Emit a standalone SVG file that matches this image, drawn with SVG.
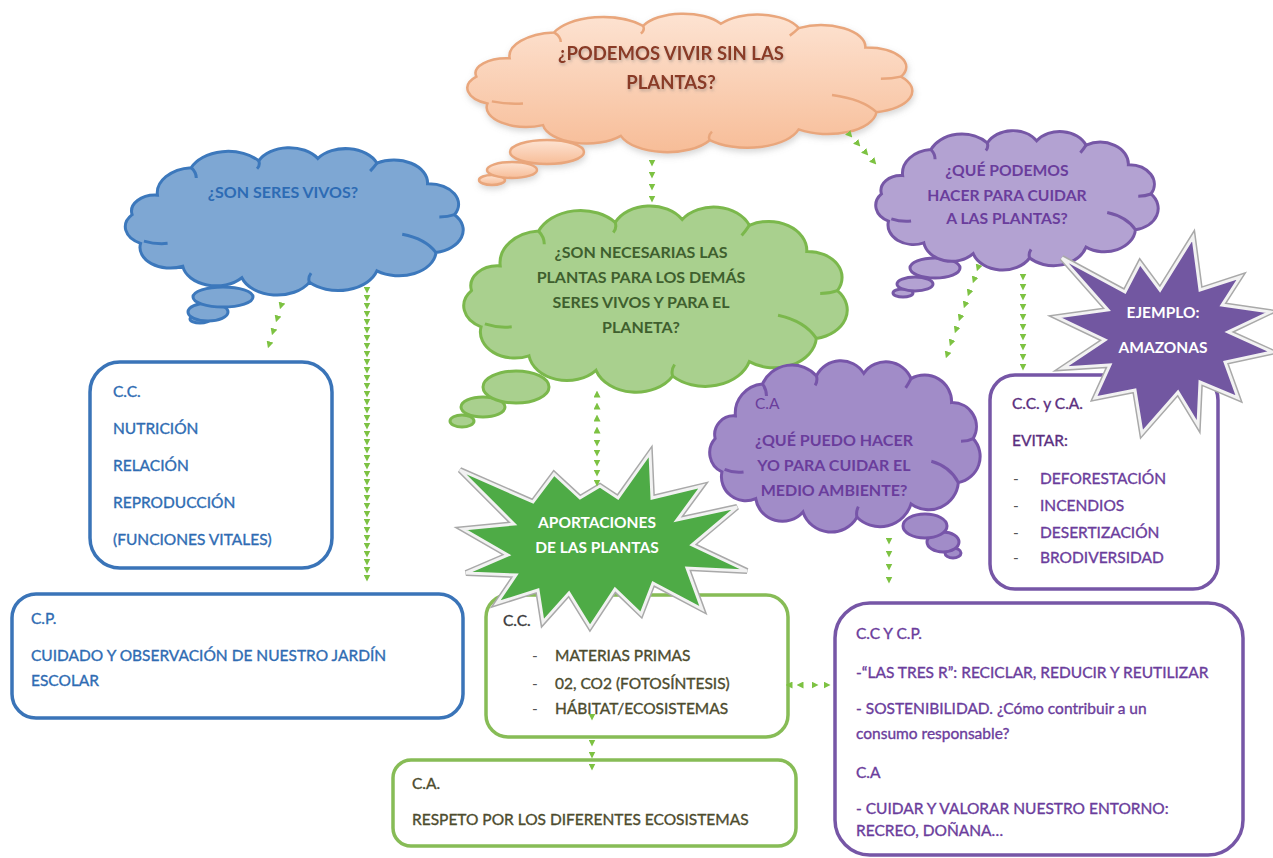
<svg xmlns="http://www.w3.org/2000/svg" width="1273" height="858" viewBox="0 0 1273 858">
<defs>
<style>
text { font-family: Lato, "Open Sans", "Liberation Sans", sans-serif; }
.ct { font-weight: bold; text-anchor: middle; }
.peach { fill: url(#gPeach); stroke: #e9a67b; stroke-width: 2.5; }
.blue { fill: #7ea7d3; stroke: #3c78bc; stroke-width: 3; }
.green { fill: #a9d08e; stroke: #7bb84c; stroke-width: 3; }
.lav { fill: #b3a2d2; stroke: #7657a6; stroke-width: 3; }
.vio { fill: #a18cc8; stroke: #7755a9; stroke-width: 3; }
.box { fill: #fff; stroke-width: 3.5; }
.bb { stroke: #3a74b8; }
.gb { stroke: #87bc56; }
.pb { stroke: #7656a6; }
.tb { fill: #2f6cb3; stroke: #2f6cb3; stroke-width: 0.35; font-size: 15.5px; }
.tg { fill: #4d4c2e; stroke: #4d4c2e; stroke-width: 0.35; font-size: 15.5px; }
.tp { fill: #6b3d9c; stroke: #6b3d9c; stroke-width: 0.35; font-size: 15.5px; }
.dash { fill: #555; font-size: 15.5px; }
.sh { fill: none; stroke: #a9a9a9; stroke-width: 6; stroke-linejoin: miter; }
.st { font-weight: bold; fill: #fff; text-anchor: middle; font-size: 15.5px; }
.conn path { fill: none; stroke: none; marker-start: url(#tri); marker-mid: url(#tri); marker-end: url(#tri); }
</style>
<linearGradient id="gPeach" x1="0" y1="0" x2="0" y2="1">
<stop offset="0" stop-color="#fde3d2"/>
<stop offset="1" stop-color="#f7bd98"/>
</linearGradient>
<filter id="soft" x="-10%" y="-10%" width="120%" height="130%">
<feDropShadow dx="1" dy="3" stdDeviation="3" flood-color="#888" flood-opacity="0.35"/>
</filter>
<filter id="tglow" x="-10%" y="-30%" width="120%" height="160%">
<feDropShadow dx="1" dy="2" stdDeviation="1.5" flood-color="#777" flood-opacity="0.45"/>
</filter>
<marker id="tri" viewBox="0 0 10 10" refX="5" refY="5" markerWidth="7" markerHeight="7" markerUnits="userSpaceOnUse" orient="auto">
<path d="M0,0 L10,5 L0,10 Z" fill="#7dc242"/>
</marker>
<g id="cloud">
<path vector-effect="non-scaling-stroke" d="M20,38 A22,22 0 0 1 40,14 A24,24 0 0 1 80,8 A20,20 0 0 1 115,6 A20,20 0 0 1 150,10 A20,20 0 0 1 180,28 A18,18 0 0 1 196,55 A20,20 0 0 1 185,88 A22,22 0 0 1 150,104 A24,24 0 0 1 110,114 A22,22 0 0 1 70,110 A20,20 0 0 1 35,100 A18,18 0 0 1 10,80 A16,16 0 0 1 5,55 A14,14 0 0 1 20,38 Z"/>
<path vector-effect="non-scaling-stroke" fill="none" d="M12,78 Q19,81 26,80 M40,14 Q43,18 43,23 M80,8 Q81,12 79,15 M150,10 Q148,14 146,17 M196,55 Q192,57 187,57 M165,72 Q179,76 185,88 M110,114 Q109,110 111,106"/>
</g>
<path id="gstar" d="M460,470 L533,502 L554,474 L580,498 L600,486 L618,498 L650,453 L652,498 L702,486 L677,520 L737,507 L692,545 L747,571 L687,568 L702,609 L653,583 L641,614 L615,589 L590,627 L569,593 L543,622 L538,590 L497,603 L516,575 L466,573 L508,555 L463,529 L514,524 Z"/>
<path id="pstar" d="M1062,258 L1125,292 L1140,263 L1160,290 L1193,237 L1200,290 L1240,277 L1222,305 L1270,312 L1228,332 L1272,352 L1225,362 L1238,398 L1200,382 L1198,425 L1178,392 L1142,433 L1135,390 L1095,398 L1110,365 L1063,368 L1105,340 L1057,317 L1108,310 Z"/>
</defs>
<rect width="1273" height="858" fill="#fff"/>

<g id="node-podemos" filter="url(#soft)">
<ellipse class="peach" cx="492" cy="180" rx="13" ry="5"/>
<ellipse class="peach" cx="512" cy="170" rx="25" ry="8"/>
<ellipse class="peach" cx="547" cy="152" rx="37" ry="12"/>
<use href="#cloud" class="peach" transform="translate(465.2,17.3) scale(2.223,1.078)"/>
<text class="ct" font-size="18.5" fill="#8a3a25" filter="url(#tglow)"><tspan x="671" y="60">¿PODEMOS VIVIR SIN LAS</tspan><tspan x="671" y="89">PLANTAS?</tspan></text>
</g>

<g id="node-seres-vivos">
<ellipse class="blue" cx="200" cy="319" rx="10" ry="4"/>
<ellipse class="blue" cx="208" cy="312" rx="20" ry="9"/>
<ellipse class="blue" cx="223" cy="297" rx="30" ry="10"/>
<use href="#cloud" class="blue" transform="translate(123.7,151.6) scale(1.688,1.147)"/>
<text class="ct" x="283" y="198" font-size="16" fill="#2d6bb4">¿SON SERES VIVOS?</text>
</g>

<g id="node-necesarias">
<ellipse class="green" cx="462" cy="421" rx="12" ry="6"/>
<ellipse class="green" cx="483" cy="407" rx="22" ry="10"/>
<ellipse class="green" cx="516" cy="387" rx="33" ry="16"/>
<use href="#cloud" class="green" transform="translate(461.9,210.8) scale(1.916,1.45)"/>
<text class="ct" font-size="16" fill="#3f5f2e"><tspan x="641" y="258">¿SON NECESARIAS LAS</tspan><tspan x="641" y="283">PLANTAS PARA LOS DEMÁS</tspan><tspan x="641" y="308">SERES VIVOS Y PARA EL</tspan><tspan x="641" y="333">PLANETA?</tspan></text>
</g>

<g id="node-que-podemos">
<ellipse class="lav" cx="903" cy="293" rx="10" ry="4"/>
<ellipse class="lav" cx="915" cy="284" rx="18" ry="7"/>
<ellipse class="lav" cx="935" cy="268" rx="25" ry="10"/>
<use href="#cloud" class="lav" transform="translate(874.4,134.3) scale(1.411,1.085)"/>
<text class="ct" font-size="15.7" fill="#6a3d9c"><tspan x="1007" y="176">¿QUÉ PODEMOS</tspan><tspan x="1007" y="201">HACER PARA CUIDAR</tspan><tspan x="1007" y="224">A LAS PLANTAS?</tspan></text>
</g>

<g id="node-que-puedo">
<ellipse class="vio" cx="953" cy="553" rx="8" ry="5"/>
<ellipse class="vio" cx="943" cy="542" rx="16" ry="10"/>
<ellipse class="vio" cx="925" cy="526" rx="22" ry="12"/>
<use href="#cloud" class="vio" transform="translate(708.4,365.3) scale(1.351,1.333)"/>
<text x="755" y="409" font-size="15.5" fill="#6a3d9c">C.A</text>
<text class="ct" font-size="16" fill="#6a3d9c"><tspan x="834" y="446">¿QUÉ PUEDO HACER</tspan><tspan x="834" y="471">YO PARA CUIDAR EL</tspan><tspan x="834" y="496">MEDIO AMBIENTE?</tspan></text>
</g>

<g id="node-cc-funciones">
<rect class="box bb" x="90" y="362" width="242" height="206" rx="30"/>
<text class="tb"><tspan x="113" y="397">C.C.</tspan><tspan x="113" y="434">NUTRICIÓN</tspan><tspan x="113" y="471">RELACIÓN</tspan><tspan x="113" y="508">REPRODUCCIÓN</tspan><tspan x="113" y="545">(FUNCIONES VITALES)</tspan></text>
</g>

<g id="node-cp-jardin">
<rect class="box bb" x="12" y="594" width="451" height="124" rx="24"/>
<text class="tb"><tspan x="31" y="624">C.P.</tspan><tspan x="31" y="661">CUIDADO Y OBSERVACIÓN DE NUESTRO JARDÍN</tspan><tspan x="31" y="686">ESCOLAR</tspan></text>
</g>

<g id="node-cc-aportaciones">
<rect class="box gb" x="486" y="595" width="302" height="142" rx="22"/>
<text x="503" y="626" font-size="15.5" fill="#3b3b3b" stroke="#3b3b3b" stroke-width="0.35">C.C.</text>
<text class="dash"><tspan x="532" y="661">-</tspan><tspan x="532" y="689">-</tspan><tspan x="532" y="714">-</tspan></text>
<text class="tg"><tspan x="555" y="661">MATERIAS PRIMAS</tspan><tspan x="555" y="689">02, CO2 (FOTOSÍNTESIS)</tspan><tspan x="555" y="714">HÁBITAT/ECOSISTEMAS</tspan></text>
</g>

<g id="node-ca-respeto">
<rect class="box gb" x="393" y="760" width="403" height="86" rx="18"/>
<text class="tg"><tspan x="412" y="789">C.A.</tspan><tspan x="412" y="825">RESPETO POR LOS DIFERENTES ECOSISTEMAS</tspan></text>
</g>

<g id="node-evitar">
<rect class="box pb" x="990" y="375" width="228" height="214" rx="25"/>
<text font-size="15.5" fill="#5b2f80" stroke="#5b2f80" stroke-width="0.35"><tspan x="1012" y="409">C.C. y C.A.</tspan><tspan x="1012" y="446">EVITAR:</tspan></text>
<text class="dash"><tspan x="1013" y="484">-</tspan><tspan x="1013" y="511">-</tspan><tspan x="1013" y="538">-</tspan><tspan x="1013" y="563">-</tspan></text>
<text class="tp"><tspan x="1040" y="484">DEFORESTACIÓN</tspan><tspan x="1040" y="511">INCENDIOS</tspan><tspan x="1040" y="538">DESERTIZACIÓN</tspan><tspan x="1040" y="563">BRODIVERSIDAD</tspan></text>
</g>

<g id="node-tres-r">
<rect class="box pb" x="835" y="603" width="408" height="252" rx="35"/>
<text class="tp"><tspan x="856" y="639">C.C Y C.P.</tspan><tspan x="856" y="678">-“LAS TRES R”: RECICLAR, REDUCIR Y REUTILIZAR</tspan><tspan x="856" y="714">- SOSTENIBILIDAD. ¿Cómo contribuir a un</tspan><tspan x="856" y="739">consumo responsable?</tspan><tspan x="856" y="778">C.A</tspan><tspan x="856" y="814">- CUIDAR Y VALORAR NUESTRO ENTORNO:</tspan><tspan x="856" y="836">RECREO, DOÑANA…</tspan></text>
</g>

<g id="node-aportaciones">
<use href="#gstar" class="sh"/>
<use href="#gstar" fill="#4eab46" stroke="#f2f2f2" stroke-width="3"/>
<text class="st"><tspan x="597" y="528">APORTACIONES</tspan><tspan x="597" y="553">DE LAS PLANTAS</tspan></text>
</g>

<g id="node-amazonas">
<use href="#pstar" class="sh"/>
<use href="#pstar" fill="#7257a1" stroke="#f2f2f2" stroke-width="3"/>
<text class="st"><tspan x="1163" y="318">EJEMPLO:</tspan><tspan x="1163" y="353">AMAZONAS</tspan></text>
</g>

<g id="connectors" class="conn">
<path d="M652,163 L652,175 L652,187 L652,199"/>
<path d="M850,135 L858,144 L866,153 L874,162"/>
<path d="M281,306 L277,319 L273,332 L269,345"/>
<path d="M367,290 L367,298 L367,306 L367,314 L367,322 L367,330 L367,338 L367,346 L367,354 L367,362 L367,370 L367,378 L367,386 L367,394 L367,402 L367,410 L367,418 L367,426 L367,434 L367,442 L367,450 L367,458 L367,466 L367,474 L367,482 L367,490 L367,498 L367,506 L367,514 L367,522 L367,530 L367,538 L367,546 L367,554 L367,562 L367,570 L367,578"/>
<path d="M597,430 L597,418 L597,406 L597,394"/>
<path d="M597,443 L597,453 L597,463 L597,473 L597,483"/>
<path d="M978,268 L974,280 L969,293 L965,305 L960,318 L956,330 L951,343 L947,355"/>
<path d="M1023,277 L1023,287 L1023,297 L1023,307 L1023,317 L1023,327 L1023,337 L1023,347 L1023,357 L1023,367"/>
<path d="M889,541 L889,554 L889,567 L889,580"/>
<path d="M800,685 L789,685"/>
<path d="M815,685 L827,685"/>
<path d="M592,717 L592,743 L592,755 L592,767"/>
</g>
</svg>
